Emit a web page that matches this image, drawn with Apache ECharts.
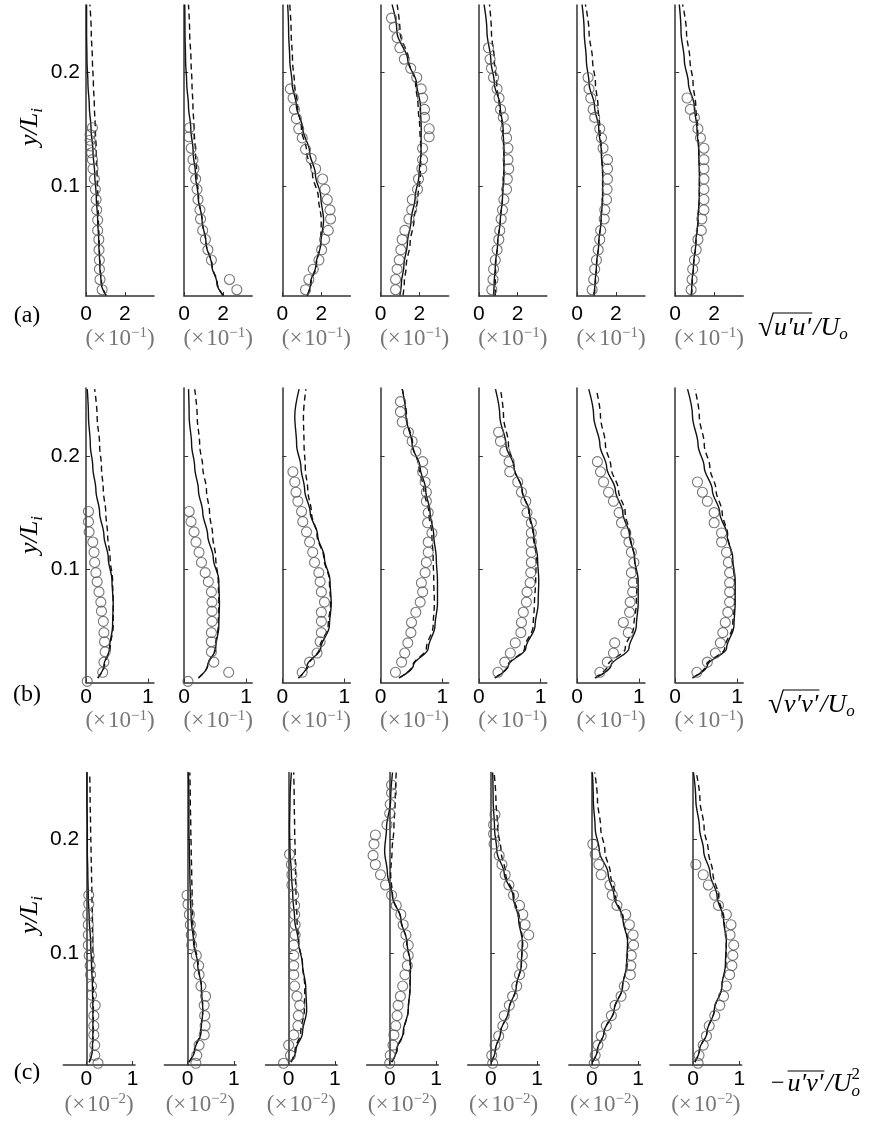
<!DOCTYPE html>
<html>
<head>
<meta charset="utf-8">
<script src="https://cdn.jsdelivr.net/npm/echarts@6/dist/echarts.min.js"></script>
<style>
  html, body { margin: 0; padding: 0; background: #fff; }
  #main { width: 873px; height: 1123px; }
</style>
</head>
<body>
<div id="main"></div>
<script>
// heights (y/L_i) where the two model curves were read, bottom -> top
const curveY = [0.004, 0.015, 0.03, 0.05, 0.07, 0.09, 0.11, 0.13, 0.15, 0.17, 0.19, 0.21, 0.235, 0.259];

// (a) sqrt(u'u')/Uo, x10^-1 : solid model, dashed model, circles (x, y)
const uuSolid = [
  [1.03, 0.78, 0.71, 0.66, 0.60, 0.53, 0.45, 0.36, 0.26, 0.17, 0.10, 0.05, 0.03, 0.03],
  [2.00, 1.68, 1.42, 1.12, 0.92, 0.72, 0.58, 0.46, 0.34, 0.22, 0.13, 0.07, 0.04, 0.03],
  [1.28, 1.45, 1.72, 1.98, 2.12, 1.98, 1.70, 1.40, 1.05, 0.72, 0.50, 0.38, 0.32, 0.27],
  [0.99, 1.07, 1.20, 1.38, 1.57, 1.78, 1.98, 2.08, 2.09, 2.05, 1.85, 1.40, 0.84, 0.59],
  [0.76, 0.79, 0.85, 0.97, 1.11, 1.22, 1.29, 1.30, 1.25, 1.10, 0.80, 0.62, 0.42, 0.27],
  [0.85, 0.93, 1.00, 1.12, 1.24, 1.32, 1.32, 1.25, 1.12, 0.90, 0.62, 0.48, 0.37, 0.26],
  [0.82, 0.86, 0.94, 1.06, 1.17, 1.24, 1.25, 1.21, 1.12, 0.98, 0.68, 0.47, 0.30, 0.21]
];
const uuDashed = [
  [1.03, 0.80, 0.72, 0.68, 0.64, 0.61, 0.57, 0.53, 0.48, 0.43, 0.38, 0.33, 0.27, 0.20],
  [2.00, 1.70, 1.44, 1.13, 0.92, 0.74, 0.65, 0.58, 0.51, 0.45, 0.40, 0.35, 0.28, 0.22],
  [1.28, 1.48, 1.75, 1.97, 2.00, 1.85, 1.55, 1.25, 0.98, 0.78, 0.62, 0.52, 0.45, 0.38],
  [1.15, 1.22, 1.32, 1.52, 1.72, 1.92, 2.05, 2.08, 2.02, 1.93, 1.80, 1.45, 1.00, 0.85],
  [0.85, 0.85, 0.87, 0.97, 1.11, 1.22, 1.29, 1.29, 1.22, 1.05, 0.92, 0.80, 0.65, 0.55],
  [0.88, 0.95, 1.01, 1.12, 1.24, 1.32, 1.32, 1.27, 1.18, 1.08, 0.95, 0.80, 0.62, 0.43],
  [0.84, 0.88, 0.95, 1.07, 1.18, 1.24, 1.25, 1.22, 1.16, 1.06, 0.92, 0.76, 0.58, 0.38]
];
const uuPoints = [
  [[1.17,0.002],[0.83,0.009],[0.72,0.018],[0.69,0.027],[0.69,0.035],[0.67,0.044],[0.66,0.053],[0.60,0.061],[0.60,0.070],[0.55,0.079],[0.52,0.088],[0.48,0.097],[0.43,0.106],[0.36,0.115],[0.33,0.123],[0.29,0.129],[0.24,0.135],[0.21,0.140],[0.21,0.145],[0.33,0.151]],
  [[1.53,0.002],[2.71,0.009],[2.33,0.018],[1.40,0.035],[1.22,0.044],[1.09,0.053],[0.95,0.061],[0.84,0.071],[0.81,0.079],[0.71,0.088],[0.66,0.097],[0.59,0.106],[0.50,0.115],[0.45,0.123],[0.36,0.133],[0.24,0.143],[0.28,0.151]],
  [[0.84,0.002],[1.19,0.009],[1.36,0.018],[1.59,0.027],[1.88,0.035],[2.02,0.044],[2.17,0.053],[2.36,0.061],[2.48,0.071],[2.45,0.079],[2.31,0.088],[2.19,0.097],[2.07,0.106],[1.71,0.115],[1.48,0.124],[1.19,0.132],[1.02,0.142],[0.84,0.150],[0.72,0.159],[0.62,0.167],[0.55,0.177],[0.41,0.185]],
  [[0.21,0.002],[0.77,0.009],[0.77,0.018],[0.85,0.027],[0.96,0.035],[1.04,0.044],[1.11,0.053],[1.25,0.061],[1.46,0.071],[1.60,0.079],[1.63,0.088],[1.90,0.097],[1.95,0.106],[2.12,0.115],[2.16,0.123],[2.16,0.133],[2.50,0.143],[2.50,0.150],[2.26,0.160],[2.26,0.167],[2.16,0.177],[2.09,0.185],[1.86,0.195],[1.55,0.203],[1.22,0.211],[0.99,0.221],[0.85,0.230],[0.70,0.239],[0.56,0.247]],
  [[0.14,0.002],[0.67,0.009],[0.73,0.018],[0.76,0.027],[0.85,0.035],[0.94,0.044],[1.03,0.053],[1.08,0.061],[1.15,0.071],[1.22,0.079],[1.29,0.088],[1.43,0.097],[1.47,0.106],[1.54,0.115],[1.50,0.123],[1.50,0.133],[1.43,0.142],[1.38,0.150],[1.26,0.160],[1.12,0.167],[1.04,0.177],[0.94,0.185],[0.76,0.195],[0.65,0.203],[0.58,0.211],[0.50,0.221]],
  [[0.31,0.002],[0.78,0.009],[0.86,0.018],[0.91,0.027],[1.00,0.035],[1.09,0.044],[1.17,0.053],[1.22,0.061],[1.40,0.071],[1.43,0.079],[1.52,0.088],[1.55,0.097],[1.57,0.106],[1.57,0.115],[1.57,0.123],[1.34,0.133],[1.26,0.142],[1.17,0.150],[0.91,0.160],[0.83,0.167],[0.71,0.177],[0.62,0.185],[0.57,0.195]],
  [[0.64,0.002],[0.82,0.009],[0.87,0.018],[0.90,0.027],[0.99,0.035],[1.08,0.044],[1.17,0.053],[1.34,0.061],[1.37,0.071],[1.48,0.079],[1.48,0.088],[1.48,0.097],[1.48,0.106],[1.48,0.115],[1.48,0.123],[1.48,0.133],[1.30,0.142],[1.17,0.150],[0.99,0.160],[0.78,0.167],[0.61,0.177]]
];

// (b) sqrt(v'v')/Uo, x10^-1
const vvSolid = [
  [0.19, 0.29, 0.38, 0.43, 0.44, 0.42, 0.36, 0.29, 0.22, 0.16, 0.11, 0.07, 0.04, 0.02],
  [0.23, 0.38, 0.51, 0.56, 0.57, 0.56, 0.47, 0.38, 0.30, 0.23, 0.17, 0.12, 0.08, 0.07],
  [0.26, 0.40, 0.62, 0.76, 0.79, 0.77, 0.68, 0.57, 0.45, 0.36, 0.30, 0.23, 0.20, 0.27],
  [0.30, 0.53, 0.77, 0.88, 0.92, 0.92, 0.90, 0.86, 0.80, 0.73, 0.64, 0.51, 0.41, 0.35],
  [0.26, 0.48, 0.76, 0.91, 0.96, 0.97, 0.95, 0.89, 0.82, 0.70, 0.57, 0.44, 0.34, 0.27],
  [0.30, 0.55, 0.84, 0.96, 0.99, 0.99, 0.93, 0.85, 0.74, 0.62, 0.48, 0.37, 0.27, 0.19],
  [0.28, 0.52, 0.83, 0.95, 0.97, 0.97, 0.93, 0.84, 0.72, 0.60, 0.47, 0.37, 0.28, 0.20]
];
const vvDashed = [
  [0.19, 0.30, 0.39, 0.44, 0.44, 0.43, 0.39, 0.35, 0.32, 0.28, 0.25, 0.22, 0.18, 0.14],
  [0.23, 0.38, 0.50, 0.55, 0.56, 0.55, 0.51, 0.46, 0.41, 0.36, 0.30, 0.25, 0.21, 0.17],
  [0.26, 0.42, 0.60, 0.74, 0.78, 0.76, 0.67, 0.56, 0.47, 0.41, 0.37, 0.35, 0.34, 0.38],
  [0.30, 0.52, 0.74, 0.85, 0.87, 0.86, 0.85, 0.83, 0.78, 0.70, 0.62, 0.52, 0.42, 0.35],
  [0.26, 0.47, 0.74, 0.88, 0.90, 0.92, 0.93, 0.88, 0.81, 0.70, 0.57, 0.48, 0.40, 0.35],
  [0.29, 0.50, 0.78, 0.92, 0.96, 0.97, 0.93, 0.86, 0.78, 0.67, 0.55, 0.46, 0.38, 0.31],
  [0.28, 0.50, 0.80, 0.93, 0.96, 0.96, 0.92, 0.85, 0.76, 0.66, 0.56, 0.47, 0.39, 0.32]
];
const vvPoints = [
  [[0.02,0.001],[0.27,0.009],[0.29,0.018],[0.31,0.027],[0.30,0.036],[0.29,0.044],[0.28,0.054],[0.25,0.063],[0.24,0.071],[0.21,0.080],[0.18,0.089],[0.16,0.097],[0.14,0.106],[0.13,0.115],[0.11,0.124],[0.05,0.133],[0.04,0.142],[0.04,0.151]],
  [[0.06,0.001],[0.72,0.009],[0.48,0.018],[0.44,0.027],[0.44,0.036],[0.44,0.044],[0.45,0.054],[0.45,0.063],[0.45,0.071],[0.44,0.080],[0.39,0.089],[0.34,0.097],[0.28,0.106],[0.24,0.115],[0.19,0.124],[0.16,0.133],[0.11,0.142],[0.08,0.151]],
  [[0.32,0.009],[0.44,0.018],[0.56,0.026],[0.61,0.036],[0.63,0.044],[0.63,0.054],[0.63,0.062],[0.68,0.071],[0.63,0.080],[0.61,0.089],[0.59,0.097],[0.52,0.106],[0.49,0.115],[0.44,0.124],[0.39,0.133],[0.33,0.142],[0.31,0.151],[0.25,0.160],[0.22,0.168],[0.20,0.177],[0.17,0.186]],
  [[0.24,0.009],[0.34,0.018],[0.39,0.026],[0.44,0.035],[0.49,0.044],[0.50,0.053],[0.57,0.062],[0.64,0.071],[0.68,0.080],[0.66,0.088],[0.72,0.097],[0.74,0.106],[0.77,0.115],[0.77,0.124],[0.83,0.132],[0.76,0.141],[0.77,0.150],[0.74,0.160],[0.74,0.168],[0.72,0.177],[0.68,0.186],[0.68,0.195],[0.57,0.204],[0.51,0.213],[0.45,0.221],[0.35,0.230],[0.32,0.239],[0.32,0.248]],
  [[0.31,0.009],[0.42,0.018],[0.51,0.026],[0.59,0.035],[0.68,0.044],[0.69,0.053],[0.72,0.062],[0.77,0.071],[0.78,0.080],[0.83,0.088],[0.84,0.097],[0.85,0.106],[0.85,0.115],[0.85,0.124],[0.85,0.132],[0.85,0.141],[0.78,0.150],[0.76,0.160],[0.69,0.168],[0.63,0.177],[0.50,0.186],[0.49,0.195],[0.42,0.204],[0.35,0.213],[0.32,0.221]],
  [[0.37,0.009],[0.49,0.018],[0.59,0.026],[0.61,0.035],[0.83,0.044],[0.75,0.053],[0.85,0.062],[0.86,0.071],[0.90,0.080],[0.91,0.088],[0.88,0.097],[0.92,0.106],[0.88,0.115],[0.84,0.124],[0.79,0.132],[0.72,0.141],[0.68,0.150],[0.59,0.160],[0.51,0.168],[0.43,0.177],[0.38,0.186],[0.33,0.195]],
  [[0.35,0.009],[0.52,0.018],[0.65,0.026],[0.73,0.035],[0.77,0.044],[0.81,0.053],[0.85,0.062],[0.88,0.071],[0.88,0.080],[0.88,0.088],[0.88,0.097],[0.86,0.106],[0.83,0.115],[0.75,0.124],[0.75,0.132],[0.63,0.141],[0.63,0.150],[0.52,0.160],[0.44,0.168],[0.36,0.177]]
];

// (c) -u'v'/Uo^2, x10^-2
const uvSolid = [
  [0.06, 0.13, 0.14, 0.14, 0.13, 0.11, 0.09, 0.06, 0.04, 0.03, 0.02, 0.02, 0.01, 0.01],
  [0.03, 0.16, 0.29, 0.33, 0.30, 0.22, 0.13, 0.08, 0.06, 0.05, 0.04, 0.03, 0.03, 0.02],
  [0.05, 0.16, 0.30, 0.39, 0.37, 0.30, 0.21, 0.13, 0.09, 0.06, 0.03, 0.02, 0.03, 0.06],
  [0.04, 0.15, 0.29, 0.40, 0.44, 0.45, 0.37, 0.24, 0.06, -0.05, -0.11, -0.07, 0.02, 0.06],
  [0.01, 0.10, 0.21, 0.39, 0.55, 0.66, 0.68, 0.60, 0.48, 0.29, 0.13, 0.08, 0.05, 0.04],
  [0.01, 0.12, 0.26, 0.48, 0.66, 0.75, 0.77, 0.67, 0.48, 0.35, 0.16, 0.07, 0.03, 0.01],
  [0.04, 0.14, 0.30, 0.46, 0.62, 0.70, 0.72, 0.66, 0.52, 0.37, 0.23, 0.14, 0.06, 0.01]
];
const uvDashed = [
  [0.06, 0.13, 0.15, 0.15, 0.15, 0.14, 0.14, 0.13, 0.12, 0.11, 0.10, 0.09, 0.08, 0.07],
  [0.03, 0.15, 0.28, 0.33, 0.30, 0.23, 0.15, 0.11, 0.10, 0.09, 0.08, 0.07, 0.06, 0.05],
  [0.05, 0.14, 0.26, 0.34, 0.35, 0.30, 0.22, 0.18, 0.16, 0.15, 0.14, 0.13, 0.12, 0.11],
  [0.04, 0.16, 0.30, 0.40, 0.44, 0.44, 0.37, 0.24, 0.06, 0.02, 0.05, 0.09, 0.12, 0.14],
  [0.01, 0.10, 0.21, 0.39, 0.55, 0.66, 0.69, 0.62, 0.50, 0.32, 0.22, 0.15, 0.11, 0.07],
  [0.01, 0.12, 0.26, 0.48, 0.66, 0.76, 0.78, 0.68, 0.51, 0.40, 0.28, 0.19, 0.12, 0.06],
  [0.04, 0.14, 0.30, 0.46, 0.62, 0.71, 0.72, 0.67, 0.55, 0.43, 0.33, 0.24, 0.15, 0.07]
];
const uvPoints = [
  [[0.25,0.003],[0.18,0.010],[0.18,0.019],[0.16,0.028],[0.16,0.036],[0.16,0.045],[0.19,0.054],[0.11,0.063],[0.11,0.071],[0.09,0.081],[0.08,0.089],[0.06,0.098],[0.04,0.107],[0.04,0.116],[0.04,0.125],[0.03,0.134],[0.05,0.143],[0.05,0.151]],
  [[0.18,0.003],[0.20,0.010],[0.25,0.019],[0.36,0.028],[0.38,0.036],[0.37,0.045],[0.36,0.054],[0.39,0.062],[0.29,0.071],[0.25,0.081],[0.24,0.089],[0.19,0.098],[0.09,0.107],[0.08,0.116],[0.06,0.125],[0.04,0.134],[0.01,0.143],[-0.01,0.151]],
  [[-0.11,0.003],[0.04,0.010],[0.00,0.019],[0.11,0.028],[0.20,0.036],[0.21,0.045],[0.24,0.054],[0.18,0.062],[0.13,0.071],[0.11,0.081],[0.11,0.089],[0.11,0.098],[0.11,0.107],[0.14,0.116],[0.14,0.125],[0.13,0.134],[0.13,0.142],[0.11,0.151],[0.07,0.160],[0.07,0.169],[0.06,0.178],[0.02,0.187]],
  [[0.00,0.003],[0.01,0.010],[0.07,0.019],[0.09,0.028],[0.13,0.036],[0.16,0.045],[0.18,0.054],[0.23,0.062],[0.28,0.071],[0.33,0.081],[0.38,0.089],[0.40,0.098],[0.40,0.107],[0.35,0.116],[0.29,0.125],[0.24,0.134],[0.14,0.142],[0.04,0.151],[-0.09,0.160],[-0.20,0.169],[-0.31,0.178],[-0.36,0.186],[-0.34,0.196],[-0.31,0.204],[-0.06,0.213],[0.00,0.223],[0.01,0.231],[0.04,0.241],[0.04,0.248]],
  [[0.04,0.003],[0.02,0.010],[0.09,0.019],[0.17,0.027],[0.26,0.036],[0.29,0.045],[0.40,0.054],[0.47,0.062],[0.56,0.071],[0.62,0.081],[0.67,0.089],[0.68,0.098],[0.69,0.107],[0.82,0.116],[0.74,0.125],[0.69,0.134],[0.62,0.142],[0.49,0.151],[0.39,0.160],[0.31,0.169],[0.24,0.178],[0.18,0.186],[0.07,0.196],[0.06,0.205],[0.06,0.213],[0.09,0.222]],
  [[0.05,0.003],[0.07,0.010],[0.13,0.019],[0.20,0.027],[0.31,0.036],[0.42,0.045],[0.50,0.054],[0.63,0.062],[0.70,0.071],[0.83,0.081],[0.84,0.089],[0.85,0.098],[0.90,0.107],[0.89,0.116],[0.81,0.125],[0.73,0.134],[0.54,0.142],[0.44,0.151],[0.39,0.160],[0.20,0.169],[0.15,0.178],[0.07,0.187],[0.02,0.196]],
  [[0.11,0.003],[0.13,0.010],[0.22,0.019],[0.29,0.027],[0.35,0.036],[0.47,0.045],[0.58,0.054],[0.66,0.062],[0.72,0.071],[0.79,0.081],[0.84,0.089],[0.86,0.098],[0.88,0.107],[0.80,0.116],[0.82,0.125],[0.72,0.134],[0.55,0.142],[0.47,0.151],[0.33,0.160],[0.22,0.169],[0.06,0.178]]
];

// tick labels
const yTicks = [0.1, 0.2];
const uuTicks = [0, 2];
const vvTicks = [0, 1];
const uvTicks = [0, 1];
const rowTags = ['(a)', '(b)', '(c)'];
const scaleExp = ['−1', '−1', '−2'];

const SANS = '"Liberation Sans", Arial, sans-serif';
const SERIF = '"Liberation Serif", "DejaVu Serif", serif';
const AXIS = '#333';
const INK = '#111';

// panel layout per row
const rows = [
  { top: 5, height: 291, left: 86, step: 98.2, width: 68, xMin: 0, xMax: 3.5, yMin: 0.0035, yMax: 0.2585,
    ticks: uuTicks, solid: uuSolid, dashed: uuDashed, pts: uuPoints, margin: 8, nameGap: 30, yLabelMargin: 6 },
  { top: 388, height: 294.5, left: 86, step: 98.2, width: 68, xMin: 0, xMax: 1.1, yMin: 0, yMax: 0.26,
    ticks: vvTicks, solid: vvSolid, dashed: vvDashed, pts: vvPoints, margin: 4, nameGap: 22, yLabelMargin: 6 },
  { top: 772.5, height: 292.5, left: 63.3, step: 101.1, width: 71.7, xMin: -0.5, xMax: 1.05, yMin: 0.0015, yMax: 0.259,
    ticks: uvTicks, solid: uvSolid, dashed: uvDashed, pts: uvPoints, margin: 4, nameGap: 27, yLabelMargin: -16 }
];

const grid = [], xAxis = [], yAxis = [], series = [];

rows.forEach((row, r) => {
  for (let p = 0; p < 7; p++) {
    const i = r * 7 + p;
    grid.push({
      left: row.left + p * row.step, top: row.top,
      width: row.width, height: row.height,
      outerBoundsMode: 'none'
    });
    xAxis.push({
      gridIndex: i, type: 'value', min: row.xMin, max: row.xMax,
      axisLine: { onZero: false, lineStyle: { color: AXIS, width: 1.5 } },
      axisTick: { inside: true, length: 4, customValues: row.ticks, lineStyle: { color: AXIS } },
      axisLabel: { customValues: row.ticks, margin: row.margin, color: '#000', fontSize: 21, fontFamily: SANS },
      splitLine: { show: false },
      name: '{p|(×\u200a10}{e|' + scaleExp[r] + '}{p|)}',
      nameLocation: 'middle', nameGap: row.nameGap,
      nameTextStyle: {
        rich: {
          p: { fontFamily: SERIF, fontSize: 23, color: '#777', lineHeight: 25 },
          e: { fontFamily: SERIF, fontSize: 15, color: '#777', lineHeight: 15, verticalAlign: 'top' }
        }
      }
    });
    yAxis.push({
      gridIndex: i, type: 'value', min: row.yMin, max: row.yMax,
      axisLine: { onZero: true, lineStyle: { color: AXIS, width: 1.5 } },
      axisTick: { inside: true, length: 4, customValues: yTicks, lineStyle: { color: AXIS } },
      axisLabel: {
        show: p === 0, customValues: yTicks, margin: row.yLabelMargin,
        formatter: v => v.toFixed(1), color: '#000', fontSize: 21, fontFamily: SANS
      },
      splitLine: { show: false }
    });
    series.push({
      type: 'line', xAxisIndex: i, yAxisIndex: i,
      data: curveY.map((y, k) => [row.solid[p][k], y]),
      smooth: 0.35, smoothMonotone: 'y', showSymbol: false, symbol: 'none',
      lineStyle: { color: INK, width: 1.4 }, z: 3
    });
    series.push({
      type: 'line', xAxisIndex: i, yAxisIndex: i,
      data: curveY.map((y, k) => [row.dashed[p][k], y]),
      smooth: 0.35, smoothMonotone: 'y', showSymbol: false, symbol: 'none',
      lineStyle: { color: INK, width: 1.4, type: [6, 4] }, z: 3
    });
    series.push({
      type: 'scatter', xAxisIndex: i, yAxisIndex: i,
      data: row.pts[p], symbol: 'circle', symbolSize: 10,
      itemStyle: { color: 'rgba(255,255,255,0)', borderColor: '#555', borderWidth: 1.1 },
      z: 4
    });
  }
});

// measure text so overlines of the formulas sit on the right glyphs
const ctx = document.createElement('canvas').getContext('2d');
function textW(font, s) { ctx.font = font; return ctx.measureText(s).width; }

function formula(x0, y0, parts) {
  const out = [];
  let x = x0;
  parts.forEach(pt => {
    const w = textW(pt.font, pt.t);
    out.push({
      type: 'text', x: x, y: y0 + (pt.dy || 0),
      style: { text: pt.t, font: pt.font, fill: '#000', align: 'left', verticalAlign: 'middle' }
    });
    if (pt.over) {
      out.push({
        type: 'line',
        shape: { x1: x - (pt.overLeft || 0), y1: y0 + pt.over, x2: x + w + 1, y2: y0 + pt.over },
        style: { stroke: '#000', lineWidth: 1.1 }
      });
    }
    if (!pt.stay) x += w + (pt.gap || 0);
  });
  return out;
}

const F = 'italic 26px ' + SERIF;
const FS = 'italic 17px ' + SERIF;
const FR = '29px ' + SERIF;
const FN = '24px ' + SERIF;

const graphic = [];
[316, 695, 1073].forEach((y, r) => {
  graphic.push({
    type: 'text', x: 27, y: y,
    style: { text: rowTags[r], font: FN, fill: '#000', align: 'center', verticalAlign: 'middle' }
  });
});
[127, 535, 915].forEach(y => {
  graphic.push({
    type: 'text', x: 30, y: y, rotation: Math.PI / 2,
    style: {
      text: '{v|y/L}{s|i}', align: 'center', verticalAlign: 'middle',
      rich: {
        v: { fontFamily: SERIF, fontStyle: 'italic', fontSize: 26, lineHeight: 32 },
        s: { fontFamily: SERIF, fontStyle: 'italic', fontSize: 17, lineHeight: 17, verticalAlign: 'bottom' }
      }
    }
  });
});

graphic.push(...formula(758, 327, [
  { t: '√', font: FR, dy: 1 },
  { t: 'u′u′', font: F, over: -14, overLeft: 1, dy: 1, gap: 2 },
  { t: '/U', font: F, dy: 1 },
  { t: 'o', font: FS, dy: 8 }
]));
graphic.push(...formula(768, 704, [
  { t: '√', font: FR, dy: 1 },
  { t: 'v′v′', font: F, over: -14, overLeft: 1, dy: 1, gap: 2 },
  { t: '/U', font: F, dy: 1 },
  { t: 'o', font: FS, dy: 8 }
]));
graphic.push(...formula(771, 1084, [
  { t: '−', font: FN, gap: 3 },
  { t: 'u′v′', font: F, over: -13, gap: 2 },
  { t: '/U', font: F },
  { t: 'o', font: FS, dy: 8, stay: true },
  { t: '2', font: '17px ' + SERIF, dy: -9 }
]));

const chart = echarts.init(document.getElementById('main'), null, { renderer: 'canvas' });
chart.setOption({
  animation: false,
  backgroundColor: '#fff',
  grid: grid,
  xAxis: xAxis,
  yAxis: yAxis,
  series: series,
  graphic: graphic
});
</script>
</body>
</html>
